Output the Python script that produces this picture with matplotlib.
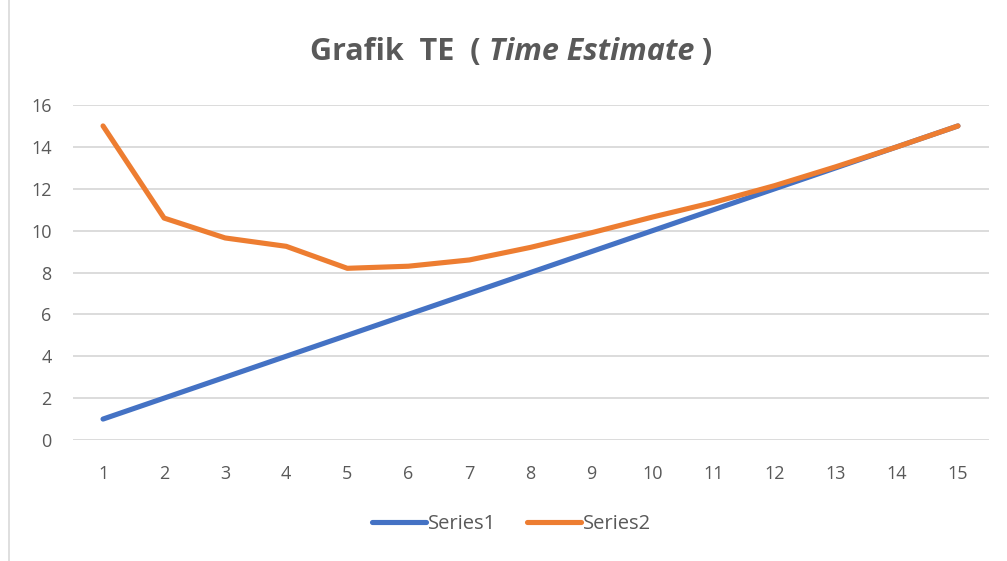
import matplotlib
matplotlib.use('Agg')
import matplotlib.pyplot as plt
from matplotlib.lines import Line2D

# data
categories = list(range(1, 16))
series1 = [1, 2, 3, 4, 5, 6, 7, 8, 9, 10, 11, 12, 13, 14, 15]
series2 = [15.0, 10.6, 9.65, 9.25, 8.2, 8.3, 8.6, 9.2, 9.9, 10.65, 11.35,
           12.15, 13.05, 14.0, 15.0]
series_names = ['Series1', 'Series2']
y_ticks = [0, 2, 4, 6, 8, 10, 12, 14, 16]

BLUE = '#4472C4'
ORANGE = '#ED7D31'
GRID = '#D9D9D9'
TEXT = '#595959'
FONT = ['Open Sans', 'DejaVu Sans']

W, H, DPI = 1007, 561, 100
fig = plt.figure(figsize=(W / DPI, H / DPI), dpi=DPI)
ax = fig.add_axes([72.5 / W, 1 - 440 / H, (988.5 - 72.5) / W, (440 - 105) / H])

ax.plot(categories, series1, color=BLUE, lw=3.7, label=series_names[0],
        solid_capstyle='round', solid_joinstyle='round', zorder=3)
ax.plot(categories, series2, color=ORANGE, lw=3.7, label=series_names[1],
        solid_capstyle='round', solid_joinstyle='round', zorder=3)

ax.set_xlim(0.5, 15.5)
ax.set_ylim(0, 16)
ax.set_xticks(categories)
ax.set_yticks(y_ticks)
ax.grid(axis='y', color=GRID, lw=1.3)
ax.set_axisbelow(True)
for s in ax.spines.values():
    s.set_visible(False)
ax.tick_params(length=0, labelsize=13, labelcolor=TEXT)
ax.tick_params(axis='x', pad=18)
ax.tick_params(axis='y', pad=15)
for lab in ax.get_xticklabels() + ax.get_yticklabels():
    lab.set_family(FONT)

# legend below the plot
leg = fig.legend(loc='center', bbox_to_anchor=(0.5 + 8 / W, 1 - 524 / H), ncol=2,
                 frameon=False, handlelength=2.7, handletextpad=0.1,
                 columnspacing=1.5, prop={'family': FONT, 'size': 14.5})
for t in leg.get_texts():
    t.set_color(TEXT)

# title with a bold-italic part
pieces = [('Grafik  TE  ( ', 'normal'), ('Time Estimate', 'italic'), (' )', 'normal')]
ty = 1 - 52 / H
texts = []
for s, style in pieces:
    texts.append(fig.text(0, ty, s, fontsize=22, fontweight='bold', style=style,
                          color=TEXT, family=FONT, va='center', ha='left'))
fig.canvas.draw()
r = fig.canvas.get_renderer()
widths = [t.get_window_extent(r).width for t in texts]
x = (W / 2 + 8 - sum(widths) / 2)
for t, w in zip(texts, widths):
    t.set_x(x / W)
    x += w

# chart area border on the left
fig.add_artist(Line2D([8.5 / W, 8.5 / W], [0, 1], color=GRID, lw=1.2,
                      transform=fig.transFigure))

fig.savefig('out.png', dpi=DPI)
